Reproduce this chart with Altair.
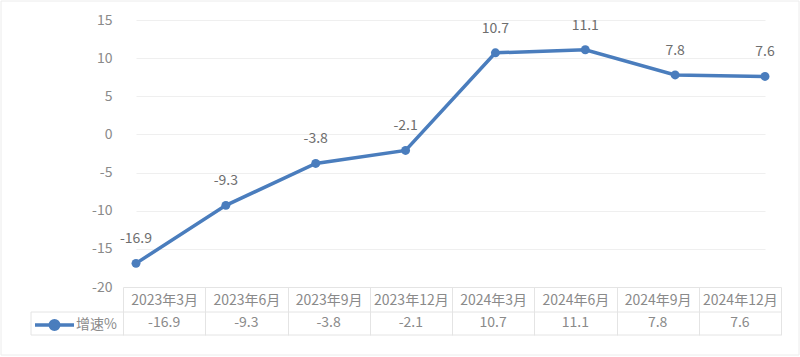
import altair as alt
import pandas as pd

categories = ["2023年3月", "2023年6月", "2023年9月", "2023年12月",
              "2024年3月", "2024年6月", "2024年9月", "2024年12月"]
values = [-16.9, -9.3, -3.8, -2.1, 10.7, 11.1, 7.8, 7.6]
series_name = "增速%"
y_ticks = [-20, -15, -10, -5, 0, 5, 10, 15]

FONT = "Noto Sans CJK SC"
BLUE = "#4a7dbd"
GRAY = "#8a8a8a"
LINE = "#e4e4e4"

df = pd.DataFrame({"cat": categories, "val": values, "series": series_name})
df["label"] = df["val"].map(lambda v: f"{v:.1f}")
one = pd.DataFrame({"a": [0]})

W, H = 658, 267

y_enc = alt.Y("val:Q", scale=alt.Scale(domain=[-20, 15], nice=False, zero=False),
              axis=alt.Axis(values=y_ticks, title=None, grid=True, gridColor="#efefef",
                            domain=False, ticks=False, labelPadding=11, labelOverlap=False,
                            labelExpr="datum.value < 0 ? '-' + abs(datum.value) : '' + datum.value",
                            labelFontSize=14, labelColor=GRAY, labelFont=FONT))

x_line = alt.X("cat:N", sort=categories,
               scale=alt.Scale(type="point", range=[13, 642], padding=0), axis=None)

line = alt.Chart(df).mark_line(strokeWidth=3.5).encode(
    x=x_line, y=y_enc,
    color=alt.Color("series:N", scale=alt.Scale(range=[BLUE]),
                    legend=alt.Legend(title=None, orient="none", legendX=-90, legendY=283.5,
                                      padding=0, symbolType="M-1,0L1,0M-0.22,0a0.22,0.22 0 1,0 0.44,0a0.22,0.22 0 1,0 -0.44,0",
                                      symbolSize=1521, symbolStrokeWidth=3.5,
                                      symbolStrokeColor=BLUE, symbolFillColor=BLUE,
                                      labelFont=FONT, labelFontSize=14, labelColor=GRAY,
                                      labelOffset=0)))

pts = alt.Chart(df).mark_circle(size=80, color=BLUE, opacity=1).encode(x=x_line, y=y_enc)

lbl = alt.Chart(df).mark_text(dy=-24, font=FONT, fontSize=14, color="#6e6e6e").encode(
    x=x_line, y=y_enc, text="label:N")

x_table = alt.X("cat:N", sort=categories,
                scale=alt.Scale(type="band", paddingInner=0, paddingOuter=0),
                axis=alt.Axis(title=None, orient="bottom", labelAngle=0, tickBand="extent",
                              tickSize=48, tickColor=LINE, domainColor=LINE,
                              labelPadding=-35, labelBaseline="middle",
                              labelFont=FONT, labelFontSize=14, labelColor=GRAY))

table_vals = alt.Chart(df).mark_text(font=FONT, fontSize=14, color=GRAY, baseline="middle").encode(
    x=x_table, y=alt.value(303), text="label:N")

row_line1 = alt.Chart(one).mark_rule(color=LINE, strokeWidth=1).encode(
    x=alt.value(-92), x2=alt.value(W), y=alt.value(292))
row_line2 = alt.Chart(one).mark_rule(color=LINE, strokeWidth=1).encode(
    x=alt.value(-92), x2=alt.value(W), y=alt.value(315))
left_line = alt.Chart(one).mark_rule(color=LINE, strokeWidth=1).encode(
    x=alt.value(-92), y=alt.value(292), y2=alt.value(315))

frame = alt.Chart(one).mark_rect(fill=None, stroke="#ececec", strokeWidth=1).encode(
    x=alt.value(-122), x2=alt.value(676), y=alt.value(-19), y2=alt.value(335))

chart = alt.layer(frame, table_vals, row_line1, row_line2, left_line, line, pts, lbl).resolve_scale(
    x="independent"
).properties(
    width=W, height=H,
    autosize=alt.AutoSizeParams(type="none"),
    padding={"left": 123, "top": 20, "right": 19, "bottom": 70},
    background="white",
).configure_view(stroke=None)

chart.save("out.html", embed_options={"renderer": "svg", "actions": False})
